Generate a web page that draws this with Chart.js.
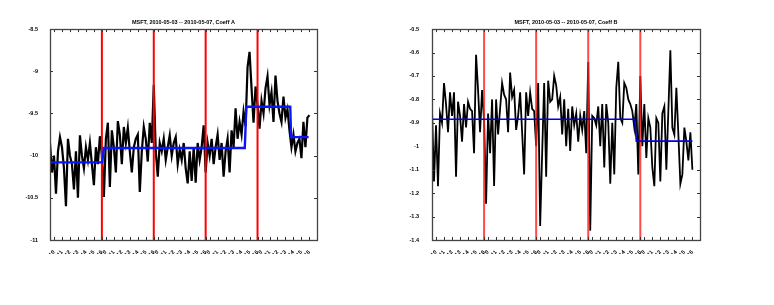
<!DOCTYPE html>
<html>
<head>
<meta charset="utf-8">
<script src="https://cdn.jsdelivr.net/npm/chart.js@4.4.1/dist/chart.umd.min.js"></script>
<style>
  html, body { margin: 0; padding: 0; background: #fff; }
  .box { position: absolute; top: 0; width: 387px; height: 305px; }
</style>
</head>
<body>
<div class="box" style="left:0"><canvas id="chartA" width="387" height="305"></canvas></div>
<div class="box" style="left:387px"><canvas id="chartB" width="387" height="305"></canvas></div>
<script>
// trading hours shown on the x axis, one block per day (9:30 - 16:00)
var hourLabels = ['10', '11', '12', '13', '14', '15', '16'];
var dayCount = 5;
var dayLength = 6.5;
var dayBreaks = [6.5, 13, 19.5, 26];
var stepHours = 0.25; // one sample every 15 minutes

// Coeff A, 15-minute samples
var coeffA = [
  -9.85, -10.2, -10.0, -10.45, -9.95, -9.78, -9.9, -10.15, -10.6, -9.8, -10.0, -10.1, -10.4,
  -9.95, -10.5, -9.76, -10.0, -10.15, -9.9, -10.05, -9.85, -10.1, -10.35, -9.9, -10.1, -9.77,
  -10.0, -10.49, -9.8, -9.61, -10.37, -9.7, -9.9, -10.2, -9.59, -9.75, -10.1, -9.66, -9.85,
  -9.67, -9.95, -10.2, -9.9, -9.8, -9.75, -10.43, -9.95, -9.66, -9.8, -10.07, -9.61, -9.85,
  -9.16, -9.95, -10.25, -9.85, -9.95, -9.8, -10.05, -9.9, -9.76, -10.0, -9.85, -9.78, -10.1,
  -9.93, -10.05, -9.85, -10.15, -10.33, -9.95, -10.3, -9.9, -10.32, -9.85, -10.05, -9.9, -9.64,
  -10.2, -9.85, -10.0, -9.8, -10.1, -9.9, -9.75, -10.05, -9.85, -10.25, -9.95, -9.8, -10.2,
  -9.7, -9.9, -9.44, -9.8, -9.6, -9.75, -9.48, -9.65, -8.95, -8.77, -9.2, -9.61, -9.18,
  -9.4, -9.68, -9.35, -9.5, -9.2, -9.06, -9.4, -9.25, -9.6, -9.05, -9.35, -9.5, -9.6,
  -9.3, -9.55, -9.45, -9.7, -9.9, -9.75, -9.95, -9.85, -9.8, -10.03, -9.6, -9.9, -9.55, -9.52
];

// Coeff B, 15-minute samples
var coeffB = [
  -0.84, -1.15, -0.91, -1.17, -0.86, -0.9, -0.73, -0.82, -0.94, -0.77, -0.87, -0.77, -1.13,
  -0.81, -0.87, -0.98, -0.82, -0.92, -0.81, -0.84, -0.85, -1.03, -0.61, -0.76, -0.94, -0.76,
  -0.89, -1.245, -0.86, -1.03, -0.8, -1.17, -0.8, -0.95, -0.84, -0.73, -0.78, -0.8, -0.94,
  -0.685, -0.79, -0.76, -0.93, -0.87, -0.77, -0.94, -1.12, -0.77, -0.87, -0.77, -0.84, -0.85,
  -1.0, -0.73, -1.34, -1.03, -0.73, -1.13, -0.72, -0.81, -0.8, -0.7, -0.74, -0.83, -0.79,
  -0.95, -0.8, -1.0, -0.84, -1.02, -0.83, -0.91, -0.86, -0.98, -0.87, -0.93, -0.85, -1.03,
  -0.64, -1.36, -0.87, -0.88, -0.91, -0.83, -1.0, -0.82, -1.09, -0.82, -0.9, -1.16, -0.9,
  -1.12, -0.75, -0.64, -0.88, -0.9, -0.73, -0.75, -0.8, -0.82, -0.85, -0.92, -0.82, -1.12,
  -0.7, -1.0, -0.82, -1.05, -0.88, -0.92, -1.09, -1.17, -0.88, -0.9, -1.15, -0.86, -0.83,
  -1.1, -0.85, -0.59, -0.92, -0.95, -0.75, -0.95, -1.16, -1.12, -0.92, -0.98, -1.06, -0.94, -1.1
];

// fitted piecewise-constant levels (blue)
var fitAx = [0, 6.55, 6.75, 24.4, 24.6, 30.1, 30.2, 32.4];
var fitAy = [-10.08, -10.08, -9.91, -9.91, -9.42, -9.42, -9.78, -9.78];
var fitBx = [0, 25.3, 25.5, 32.5];
var fitBy = [-0.885, -0.885, -0.978, -0.978];

var yTicksA = [-11, -10.5, -10, -9.5, -9, -8.5];
var yTicksB = [-1.4, -1.3, -1.2, -1.1, -1, -0.9, -0.8, -0.7, -0.6, -0.5];

var titleA = 'MSFT, 2010-05-03 -- 2010-05-07, Coeff A';
var titleB = 'MSFT, 2010-05-03 -- 2010-05-07, Coeff B';

// x tick positions: 10..16 of every day
var xTickValues = [];
var xTickLabels = [];
for (var d = 0; d < dayCount; d++) {
  hourLabels.forEach(function (h) {
    xTickValues.push(d * dayLength + (parseInt(h, 10) - 9.5));
    xTickLabels.push(h);
  });
}

// frame + inward tick marks on all four sides
var framePlugin = {
  id: 'frame',
  afterDatasetsDraw: function (chart) {
    var ctx = chart.ctx, a = chart.chartArea, x = chart.scales.x, y = chart.scales.y;
    ctx.save();
    ctx.strokeStyle = '#333';
    ctx.lineWidth = 1;
    ctx.beginPath();
    x.ticks.forEach(function (t) {
      var px = Math.round(x.getPixelForValue(t.value)) + 0.5;
      ctx.moveTo(px, a.bottom); ctx.lineTo(px, a.bottom - 3);
      ctx.moveTo(px, a.top); ctx.lineTo(px, a.top + 3);
    });
    y.ticks.forEach(function (t) {
      var py = Math.round(y.getPixelForValue(t.value)) + 0.5;
      ctx.moveTo(a.left, py); ctx.lineTo(a.left + 3, py);
      ctx.moveTo(a.right, py); ctx.lineTo(a.right - 3, py);
    });
    ctx.stroke();
    ctx.lineWidth = 1.3;
    ctx.strokeStyle = '#444';
    ctx.strokeRect(Math.round(a.left) + 0.5, Math.round(a.top) + 0.5, Math.round(a.width), Math.round(a.height));
    ctx.restore();
  }
};

function makeChart(id, opts) {
  var series = opts.values.map(function (v, j) { return { x: j * stepHours, y: v }; });
  var fit = opts.fitX.map(function (xv, i) { return { x: xv, y: opts.fitY[i] }; });
  var yMin = opts.yTicks[0], yMax = opts.yTicks[opts.yTicks.length - 1];

  var datasets = [
    { data: series, borderColor: '#000', borderWidth: opts.blackWidth, order: 3 },
    { data: fit, borderColor: opts.blue, borderWidth: opts.blueWidth, order: 1 }
  ];
  dayBreaks.forEach(function (b) {
    datasets.push({
      data: [{ x: b, y: yMin }, { x: b, y: yMax }],
      borderColor: opts.red, borderWidth: 2, order: 2
    });
  });

  return new Chart(document.getElementById(id), {
    type: 'line',
    data: { datasets: datasets },
    options: {
      responsive: false,
      animation: false,
      devicePixelRatio: 1,
      elements: {
        line: { tension: 0, fill: false },
        point: { radius: 0, hoverRadius: 0 }
      },
      layout: { padding: opts.padding },
      plugins: {
        legend: { display: false },
        tooltip: { enabled: false },
        title: {
          display: true,
          text: opts.title,
          fullSize: false,
          color: '#000',
          font: { family: 'Liberation Sans', size: 5.5, weight: 'bold', lineHeight: 1.2 },
          padding: { top: 19.5, bottom: 3 }
        }
      },
      scales: {
        x: {
          type: 'linear',
          min: 0,
          max: 33.45,
          grid: { display: false },
          border: { display: false },
          afterBuildTicks: function (s) {
            s.ticks = xTickValues.map(function (v) { return { value: v }; });
          },
          afterFit: function (s) { s.height = 14; },
          ticks: {
            autoSkip: false,
            minRotation: 45,
            maxRotation: 45,
            padding: 1,
            color: '#000',
            font: { family: 'Liberation Sans', size: 5.5, weight: 'bold' },
            callback: function (v, i) { return xTickLabels[i]; }
          }
        },
        y: {
          min: yMin,
          max: yMax,
          grid: { display: false },
          border: { display: false },
          afterBuildTicks: function (s) {
            s.ticks = opts.yTicks.map(function (v) { return { value: v }; });
          },
          afterFit: function (s) { s.width = 30; },
          ticks: {
            padding: opts.yPad,
            color: '#000',
            font: { family: 'Liberation Sans', size: 5.5, weight: 'bold' },
            callback: function (v) { return String(Math.round(v * 10) / 10); }
          }
        }
      }
    },
    plugins: [framePlugin]
  });
}

makeChart('chartA', {
  values: coeffA, fitX: fitAx, fitY: fitAy, yTicks: yTicksA, title: titleA,
  blackWidth: 2.2, blue: '#0a14ff', blueWidth: 2.4, red: '#ff0000', yPad: 4,
  padding: { left: 20, right: 70, top: 0, bottom: 51 }
});

makeChart('chartB', {
  values: coeffB, fitX: fitBx, fitY: fitBy, yTicks: yTicksB, title: titleB,
  blackWidth: 1.8, blue: '#0000e0', blueWidth: 1.6, red: 'rgba(255,30,30,0.8)', yPad: 5,
  padding: { left: 15, right: 74, top: 0, bottom: 51 }
});
</script>
</body>
</html>
